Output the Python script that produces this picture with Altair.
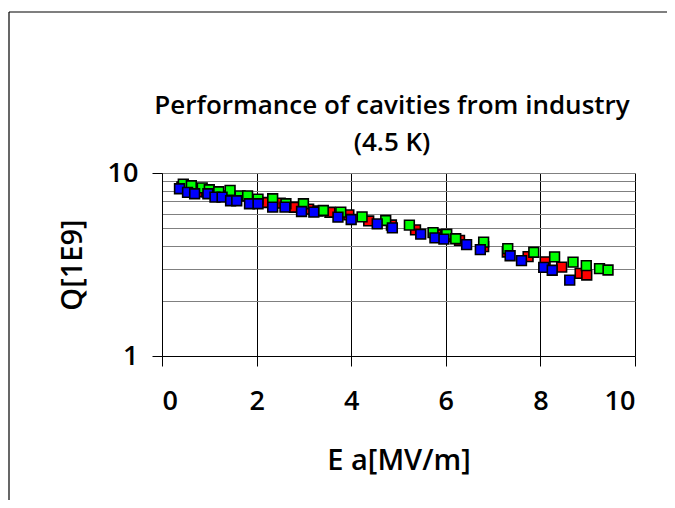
import altair as alt
import pandas as pd

red_x = [0.42, 0.58, 0.75, 0.95, 1.15, 1.3, 1.55, 1.9, 2.2, 2.5, 2.8, 3.1, 3.3, 3.55, 3.95,
         4.37, 4.85, 5.36, 5.8, 6.0, 6.29, 6.8, 7.3, 7.74, 8.1, 8.45, 8.84, 8.98]
red_y = [8.4, 8.1, 7.9, 7.9, 7.6, 7.5, 7.2, 7.0, 6.9, 6.85, 6.5, 6.35, 6.2, 6.1, 5.9,
         5.47, 5.2, 4.89, 4.6, 4.5, 4.28, 3.96, 3.7, 3.49, 3.27, 3.06, 2.83, 2.77]

green_x = [0.45, 0.62, 0.85, 1.0, 1.2, 1.44, 1.65, 1.81, 2.03, 2.34, 2.62, 2.99, 3.41, 3.78,
           4.23, 4.73, 5.23, 5.73, 6.02, 6.21, 6.8, 7.31, 7.86, 8.3, 8.69, 8.97, 9.25, 9.43]
green_y = [8.7, 8.52, 8.3, 8.1, 7.9, 8.03, 7.5, 7.5, 7.2, 7.23, 6.79, 6.79, 6.24, 6.11,
           5.76, 5.5, 5.19, 4.72, 4.63, 4.37, 4.19, 3.86, 3.69, 3.48, 3.26, 3.12, 3.0, 2.95]

blue_x = [0.37, 0.54, 0.69, 0.97, 1.12, 1.27, 1.45, 1.58, 1.85, 2.03, 2.34, 2.6, 2.95, 3.21,
          3.72, 4.0, 4.55, 4.87, 5.47, 5.77, 5.96, 6.44, 6.73, 7.36, 7.6, 8.07, 8.25, 8.62]
blue_y = [8.2, 7.83, 7.7, 7.7, 7.38, 7.38, 7.05, 7.05, 6.79, 6.79, 6.51, 6.51, 6.16, 6.11,
          5.74, 5.57, 5.27, 5.01, 4.63, 4.42, 4.35, 4.06, 3.81, 3.53, 3.32, 3.05, 2.94, 2.6]

series_names = ["red", "green", "blue"]
series_colors = ["#FF0000", "#00FF00", "#0000FF"]
x_ticks = [0, 2, 4, 6, 8, 10]
y_grid = [1, 2, 3, 4, 5, 6, 7, 8, 9, 10]
title_lines = ["Performance of cavities from industry", "(4.5 K)"]

rows = []
for name, xs, ys in zip(series_names, [red_x, green_x, blue_x], [red_y, green_y, blue_y]):
    for xv, yv in zip(xs, ys):
        rows.append({"series": name, "Ea": xv, "Q": yv})
df = pd.DataFrame(rows)

FONT = "Open Sans"
W = 600

points = alt.Chart(df).mark_square(size=95, stroke="black", strokeWidth=1.6, opacity=1).encode(
    x=alt.X("Ea:Q", scale=alt.Scale(domain=[0, 10], nice=False),
            axis=alt.Axis(values=x_ticks, title="E a[MV/m]", grid=True, gridColor="black",
                          gridWidth=1, domainColor="black", tickColor="black", tickSize=10,
                          labelFontSize=27, labelFontWeight=W, labelPadding=22,
                          labelFont=FONT, labelColor="black",
                          titleFont=FONT, titleFontSize=29, titleFontWeight=W,
                          titlePadding=32, titleColor="black")),
    y=alt.Y("Q:Q", scale=alt.Scale(type="log", domain=[1, 10], nice=False),
            axis=alt.Axis(values=y_grid, title="Q[1E9]", grid=True, gridColor="#808080",
                          gridWidth=1, domainColor="black",
                          tickColor="black", tickSize=10,
                          tickOpacity={"condition": {"test": "datum.value == 1 || datum.value == 10", "value": 1}, "value": 0},
                          labelExpr="datum.value == 1 || datum.value == 10 ? datum.label : ''",
                          labelFontSize=27, labelFontWeight=W, labelPadding=14,
                          labelFont=FONT, labelColor="black",
                          titleFont=FONT, titleFontSize=29, titleFontWeight=W,
                          titlePadding=20, titleColor="black")),
    color=alt.Color("series:N", scale=alt.Scale(domain=series_names, range=series_colors), legend=None),
    order=alt.Order("idx:Q"),
).transform_window(idx="row_number()")

title_df = pd.DataFrame({"line": title_lines, "k": [0, 1]})
title1 = alt.Chart(title_df).transform_filter("datum.k == 0").mark_text(
    font=FONT, fontSize=26, fontWeight=W, color="black", align="center", baseline="middle"
).encode(text="line:N", x=alt.value(230), y=alt.value(-67))
title2 = alt.Chart(title_df).transform_filter("datum.k == 1").mark_text(
    font=FONT, fontSize=26, fontWeight=W, color="black", align="center", baseline="middle"
).encode(text="line:N", x=alt.value(230), y=alt.value(-30))

frame_data = pd.DataFrame({"a": [0]})
frame_top = alt.Chart(frame_data).mark_rule(color="black", strokeWidth=1.2).encode(
    x=alt.value(-153), x2=alt.value(505), y=alt.value(-161)
)
frame_left = alt.Chart(frame_data).mark_rule(color="black", strokeWidth=1.2).encode(
    x=alt.value(-153), y=alt.value(-161), y2=alt.value(327)
)

chart = alt.layer(frame_top, frame_left, points, title1, title2).properties(
    width=473, height=183,
    padding={"left": 154, "top": 165, "right": 32, "bottom": 144},
    autosize=alt.AutoSizeParams(type="none"),
).configure_view(stroke="#808080", strokeWidth=1).configure(background="white")

chart.save("out.html", embed_options={"renderer": "svg", "actions": False})
